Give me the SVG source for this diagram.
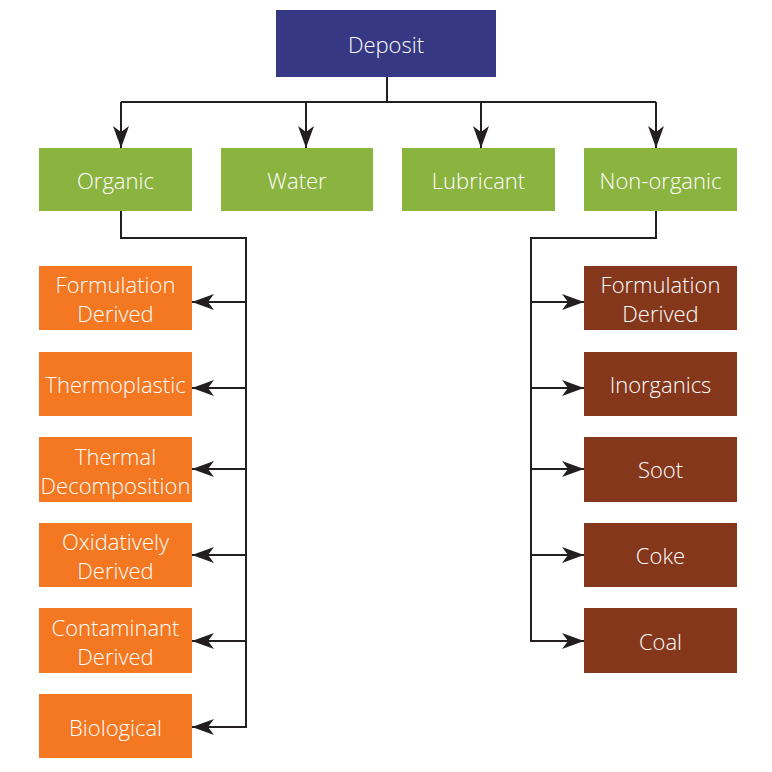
<svg xmlns="http://www.w3.org/2000/svg" width="772" height="772" viewBox="0 0 772 772">
<defs>
<marker id="ah" markerUnits="userSpaceOnUse" viewBox="0 0 22 16" refX="22" refY="8" markerWidth="22" markerHeight="16" orient="auto">
<path d="M0,0 L22,8 L0,16 L6,8 Z" fill="#231f20"/>
</marker>
</defs>
<style>
.t{font-family:"Open Sans","Noto Sans","Liberation Sans",sans-serif;font-size:22px;font-weight:300;fill:#fff;text-anchor:middle;dominant-baseline:central}
.c{fill:none;stroke:#231f20;stroke-width:2}
.a{fill:none;stroke:#231f20;stroke-width:2;marker-end:url(#ah)}
.navy{fill:#363884}.green{fill:#8bb33f}.orange{fill:#f47721}.brown{fill:#85371c}
</style>
<rect width="772" height="772" fill="#fff"/>
<g id="connectors">
<path class="c" d="M387,77 V102 M121,102 H656"/>
<path class="a" d="M121,102 V148"/>
<path class="a" d="M306,102 V148"/>
<path class="a" d="M481,102 V148"/>
<path class="a" d="M656,102 V148"/>
<path class="c" d="M121,211 V238 H246 V727"/>
<path class="a" d="M246,302 H192"/>
<path class="a" d="M246,388 H192"/>
<path class="a" d="M246,469 H192"/>
<path class="a" d="M246,555 H192"/>
<path class="a" d="M246,641 H192"/>
<path class="a" d="M247,727 H192"/>
<path class="c" d="M656,211 V238 H531 V641"/>
<path class="a" d="M531,302 H584"/>
<path class="a" d="M531,388 H584"/>
<path class="a" d="M531,469 H584"/>
<path class="a" d="M531,555 H584"/>
<path class="a" d="M530,641 H584"/>
</g>
<g id="deposit"><rect class="navy" x="276" y="10" width="220" height="67"/><text class="t" x="386" y="44">Deposit</text></g>
<g id="organic"><rect class="green" x="39" y="148" width="153" height="63"/><text class="t" x="115.5" y="180">Organic</text></g>
<g id="water"><rect class="green" x="221" y="148" width="152" height="63"/><text class="t" x="297" y="180">Water</text></g>
<g id="lubricant"><rect class="green" x="402" y="148" width="153" height="63"/><text class="t" x="478.5" y="180">Lubricant</text></g>
<g id="nonorganic"><rect class="green" x="584" y="148" width="153" height="63"/><text class="t" x="660.5" y="180">Non-organic</text></g>
<g id="formulation-org"><rect class="orange" x="39" y="266" width="153" height="64"/><text class="t" x="115.5" y="284">Formulation</text><text class="t" x="115.5" y="313">Derived</text></g>
<g id="thermoplastic"><rect class="orange" x="39" y="352" width="153" height="64"/><text class="t" x="115.5" y="384">Thermoplastic</text></g>
<g id="thermal"><rect class="orange" x="39" y="437" width="153" height="65"/><text class="t" x="115.5" y="456">Thermal</text><text class="t" x="115.5" y="485">Decomposition</text></g>
<g id="oxidatively"><rect class="orange" x="39" y="523" width="153" height="64"/><text class="t" x="115.5" y="541">Oxidatively</text><text class="t" x="115.5" y="570">Derived</text></g>
<g id="contaminant"><rect class="orange" x="39" y="608" width="153" height="65"/><text class="t" x="115.5" y="627">Contaminant</text><text class="t" x="115.5" y="656">Derived</text></g>
<g id="biological"><rect class="orange" x="39" y="694" width="153" height="64"/><text class="t" x="115.5" y="727">Biological</text></g>
<g id="formulation-non"><rect class="brown" x="584" y="266" width="153" height="64"/><text class="t" x="660.5" y="284">Formulation</text><text class="t" x="660.5" y="313">Derived</text></g>
<g id="inorganics"><rect class="brown" x="584" y="352" width="153" height="64"/><text class="t" x="660.5" y="384">Inorganics</text></g>
<g id="soot"><rect class="brown" x="584" y="437" width="153" height="65"/><text class="t" x="660.5" y="469">Soot</text></g>
<g id="coke"><rect class="brown" x="584" y="523" width="153" height="64"/><text class="t" x="660.5" y="555">Coke</text></g>
<g id="coal"><rect class="brown" x="584" y="608" width="153" height="65"/><text class="t" x="660.5" y="641">Coal</text></g>
</svg>
